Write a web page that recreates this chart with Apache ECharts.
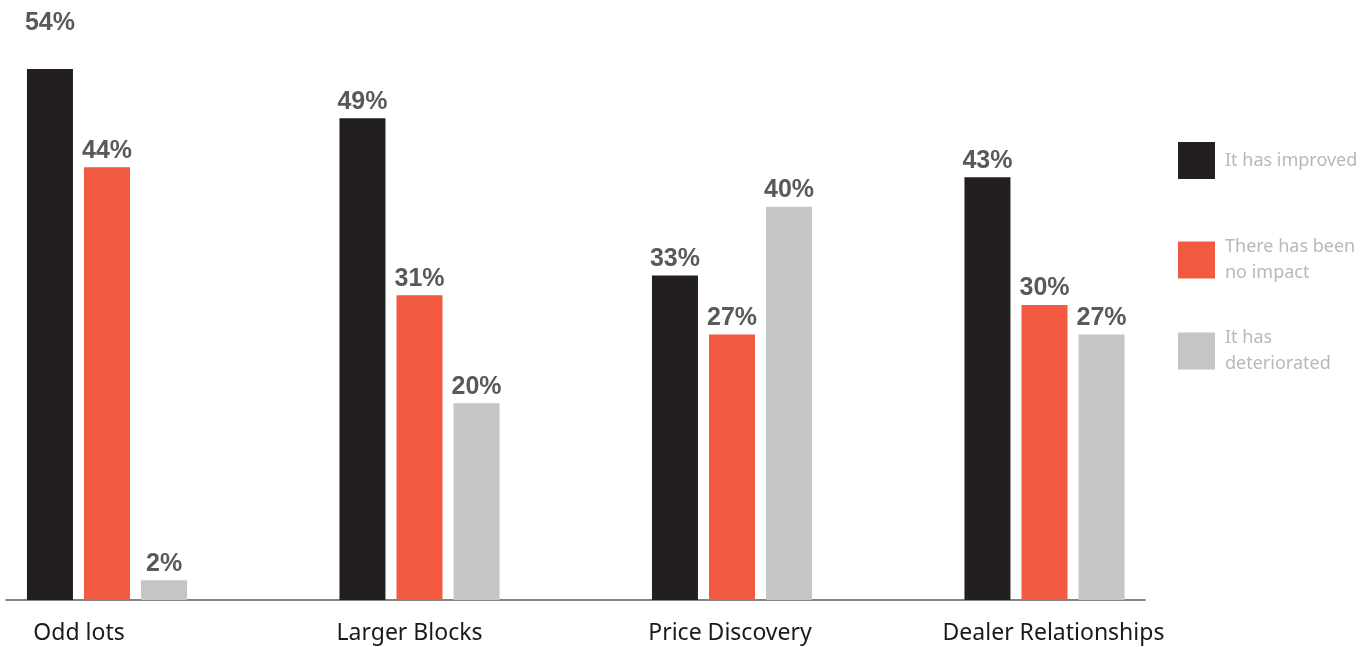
<!DOCTYPE html>
<html><head><meta charset="utf-8">
<script src="https://cdn.jsdelivr.net/npm/echarts@6/dist/echarts.min.js"></script>
<style>html,body{margin:0;padding:0;background:#fff}#c{width:1362px;height:647px}</style>
</head><body><div id="c"></div>
<script>
const categories = ['Odd lots', 'Larger Blocks', 'Price Discovery', 'Dealer Relationships'];
const seriesNames = ['It has improved', 'There has been no impact', 'It has deteriorated'];
const legendLabels = ['It has improved', 'There has been\nno impact', 'It has\ndeteriorated'];
const improved = [54, 49, 33, 43];
const noImpact = [44, 31, 27, 30];
const deteriorated = [2, 20, 40, 27];
const colors = ['#231f20', '#f15a40', '#c4c5c6'];
const labelShift = [56, 20, 4, -18];

const chart = echarts.init(document.getElementById('c'));
const values = [improved, noImpact, deteriorated];
const series = values.map((arr, si) => ({
  name: seriesNames[si],
  type: 'bar',
  barWidth: 46,
  barGap: '24%',
  itemStyle: { color: colors[si] },
  label: {
    show: true, position: 'top', distance: 4,
    formatter: p => p.value[1] + '%',
    fontFamily: 'Liberation Sans, Arial, sans-serif',
    fontWeight: 'bold', fontSize: 25, color: '#58595b'
  },
  data: arr.map((v, i) => (si === 0 && i === 0) ? { value: [i, v], label: { offset: [0, -29] } } : [i, v]),
  animation: false
}));
const legendTops = [137, 229, 320];
const legends = seriesNames.map((n, i) => ({
  data: [n],
  left: 1173,
  top: legendTops[i],
  orient: 'vertical',
  icon: 'rect',
  itemWidth: 37,
  itemHeight: 37,
  selectedMode: false,
  formatter: () => legendLabels[i],
  textStyle: { fontFamily: 'Noto Sans, sans-serif', fontSize: 18, color: '#b8b8b8', lineHeight: 26, padding: [0, 0, 0, 5] }
}));

chart.setOption({
  animation: false,
  grid: { left: 6, right: 217, top: 10, bottom: 47 },
  legend: legends,
  xAxis: {
    type: 'value',
    min: -0.3232,
    max: 3.3216,
    splitLine: { show: false },
    axisLine: { show: true, lineStyle: { color: '#595959', width: 1.5 } },
    axisTick: { show: false },
    axisLabel: {
      margin: 22,
      customValues: [0, 1, 2, 3],
      hideOverlap: false,
      formatter: v => '{l' + v + '|' + categories[v] + '}',
      rich: Object.fromEntries(labelShift.map((s, i) => ['l' + i, {
        fontFamily: 'Noto Sans, sans-serif', fontSize: 23, color: '#1a1a1a',
        padding: s > 0 ? [0, s, 0, 0] : [0, 0, 0, -s]
      }]))
    }
  },
  yAxis: { type: 'value', min: 0, max: 60, show: false },
  series
});
</script></body></html>
